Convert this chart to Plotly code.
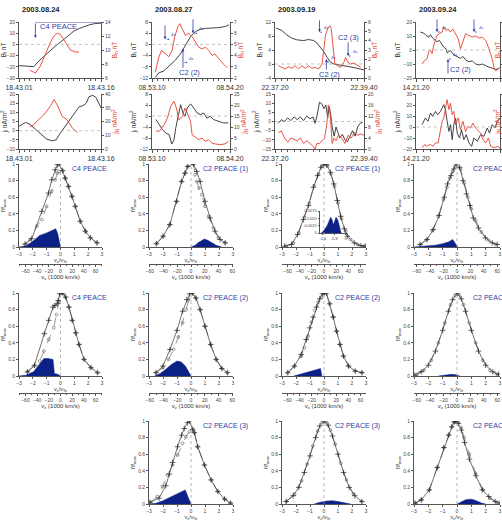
import plotly.graph_objects as go

W, H = 502, 521
FONT = "Liberation Sans, Arial, sans-serif"
BLUE_TXT = "#2c3ca6"
BLUE_FILL = "#0c2186"
RED = "#e8412c"
BLACK = "#2e2e2e"
AX = "#555555"

# ------------------------------------------------------------------ DATA
dates = ["2003.08.24", "2003.08.27", "2003.09.19", "2003.09.24"]
t_span = [15, 70, 140, 120]
t_labels = [("18.43.01", "18.43.16"), ("08.53.10", "08.54.20"),
            ("22.37.20", "22.39.40"), ("14.21.20", "14.23.20")]

# column 1 : 2003.08.24
c1_tB = [0, 1, 2, 2.7, 3.6, 4.5, 5.5, 6.4, 7.3, 8.2, 9.1, 10, 11, 11.9, 12.9, 13.8, 15]
c1_Bl = [-19, -19.3, -19.6, -19.8, -15, -10.6, -6.5, -2.6, 1, 4.8, 8.5, 11.7, 14.2, 16, 17.5, 18.5, 19]
c1_tBn = [2, 3, 3.9, 4.5, 5.1, 5.8, 6.4, 7, 7.6, 8.5, 9.4, 10.4, 11]
c1_Bn = [7.1, 6.7, 7.7, 8.8, 10, 11.2, 12, 12.4, 12.2, 11, 10, 9.7, 9.7]
c1_tj = [0, 0.7, 1.2, 2, 3, 4, 5, 6, 6.8, 7.4, 8, 8.8, 10, 11, 11.7, 12.3, 12.8, 13.5, 14.1, 14.6, 15]
c1_j = [2.4, 3.5, 4.5, 3.5, 1, -2, -4.5, -5.5, -5, -2, 0.5, 4, 9.5, 13, 13.6, 15, 18.5, 19.3, 18, 15, 12.4]
c1_tjN = [2, 2.6, 3.5, 4.5, 5.7, 6.4, 7, 7.9, 8.8, 9.8, 10.7]
c1_jN = [16, 17.5, 21, 24.7, 30.8, 36, 32, 23.8, 21.3, 15, 12]

# column 2 : 2003.08.27
c2_tB = [3, 6, 10.5, 15, 21, 25.5, 30, 34.5, 39, 43.5, 48, 54, 60, 66, 69]
c2_Bl = [-11.8, -10.2, -9.5, -7.7, -5.6, -3.4, -0.3, 2.7, 4.6, 5.4, 5.7, 5.8, 6, 6.4, 7]
c2_tBn = [3, 6, 8.4, 12, 15, 18, 20.4, 23.4, 25, 27, 30, 33, 36, 39, 42, 45, 48, 51, 54, 56.4, 60, 64.5, 67.5]
c2_Bn = [2.55, 3.8, 4.45, 4.2, 3.9, 4.45, 5.7, 6.6, 6.85, 6.45, 5.8, 6, 5.7, 5.2, 4.75, 4.6, 4.75, 4.45, 4, 4.15, 3.7, 3.2, 2.9]
c2_tj = [3.5, 6.5, 9.5, 12.4, 15.4, 17.7, 19.8, 21.3, 23.6, 25.7, 27.8, 29.5, 31.6, 34.6, 37.5, 40.5, 43.4, 46.4, 49.3, 52.3, 55.2, 59.7, 64.1, 68.5]
c2_j = [-1.3, -3.2, -5, -6.2, -6.8, -10.2, -8.6, -4.4, 0.5, 4.1, 1.1, -0.1, 2.9, 4.4, 2.9, 1.1, 0.5, 1.1, -0.8, -0.1, -1.3, -1.9, -2.5, -2.5]
c2_tjN = [3.5, 6.5, 10.9, 13.9, 16.8, 19.8, 21.9, 24.2, 27.2, 29.5, 31.6, 34.6, 36, 39, 42, 44.9, 47.8, 50.8, 53.8, 56.7, 61.1, 65.5, 68.5]
c2_jN = [8.3, 8, 11, 14.1, 19.4, 21.7, 18.6, 13.3, 14.8, 18.6, 16.4, 12.6, 6.5, 5.3, 4.2, 5, 3.5, 4.2, 2.7, 2.3, 2, 2.3, 3.5]

# column 3 : 2003.09.19
c3_tB = [1.6, 10.6, 18.5, 26.5, 34.4, 45, 52.9, 60.8, 66, 71.4, 76.7, 82, 87.3, 92.6, 103, 113.8, 124, 135, 140]
c3_Bl = [10.3, 9.6, 8.3, 7.4, 6.9, 6.7, 7, 6.7, 6, 4.8, 3.5, 1.9, 0.5, 0, -0.3, -0.5, -1, -1.5, -1.7]
c3_tBn = [5.3, 10.6, 15.9, 21.2, 26.5, 31.7, 37, 42.3, 47.6, 53, 58, 63.5, 68.8, 74, 76.7, 79.4, 83, 86.2, 88.4, 91.5, 94.2, 98, 103, 108.5, 111, 114.8, 119, 124, 129.6, 135]
c3_Bn = [1.32, 1.14, 0.96, 1.2, 1.04, 1.3, 0.97, 1.3, 1.04, 1.3, 1.04, 1.14, 0.97, 1.5, 3.1, 4.6, 5.3, 5.6, 5.3, 3.1, 1.5, 1.33, 1.14, 1.7, 2.2, 1.7, 1.5, 1.6, 1.33, 1.14]
c3_tj = [5, 10, 15, 20, 25, 30, 35, 40, 45, 50, 55, 60, 63, 66, 70, 74, 77, 80, 83, 85, 88, 90, 93, 96, 99, 102, 106, 110, 114, 118, 122, 126, 130, 134, 138]
c3_j = [-1, 1, 0, 2, 0.5, 2.5, 1, 2.5, 0.5, 3, 1.5, 2.5, -1, 3, 10.5, 9.5, 7, 9, 2, 8, 3, -3, -8, -3, -6, -9, -7, -10, -11, -8, -5, -8, -3, -1, -0.5]
c3_tjN = [5, 10, 15, 20, 25, 30, 35, 40, 45, 50, 55, 60, 63, 66, 70, 74, 78, 82, 84, 86, 88, 90, 93, 96, 100, 105, 110, 115, 120, 125, 130, 135, 140]
c3_jN = [6, 6.5, 4, 2.5, 4, 3.5, 3, 4, 2, 3, 2, 1, 0, 2, 2, 3, 4, 10, 16, 15, 8, 2, 4, 3, 5, 4, 2, 5, 4, 6, 5, 5.5, 5]

# column 4 : 2003.09.24
c4_tB = [6.2, 11, 14.4, 18.2, 20.6, 23.9, 27.8, 30, 33.5, 36.4, 39.7, 43, 44.5, 47, 49.3, 54, 58.9, 63.6, 67, 70.8, 75.6, 80.4, 85, 90, 94.7, 99.5, 104.3, 109, 114, 118.7]
c4_Bl = [12.8, 12.1, 10.4, 9.2, 10.9, 8.5, 6.8, 6, 6.8, 4.4, 2, 0.8, -2, -1, -0.5, -3.5, -5.1, -6, -4.6, -7, -8.4, -7.7, -10, -10.7, -10, -11.3, -12.3, -13, -14, -13]
c4_tBn = [8.6, 12.4, 15.8, 18.2, 20.6, 23, 25.4, 27.8, 30.1, 33.5, 37.3, 39.7, 43, 46, 49.3, 52.6, 56.5, 60.3, 63.6, 67, 70.8, 75.6, 80.4, 85, 90, 94.7, 99.5, 104.3, 108, 111.5, 114, 117.7, 120]
c4_Bn = [-10, -7.5, -6.2, -1.3, 0, -2.5, 3.5, 7, 10.5, 11.6, 12.8, 16.4, 14, 15, 12.8, 15, 11.6, 8, 0.8, 5.6, 11.6, 10.4, 9.2, 10, 8.5, 9.2, 6.8, 0.8, -5, -12.3, -14.7, -13.5, -12.3]
c4_tj = [8.6, 13.4, 17.2, 20.6, 23.9, 27.8, 31, 35, 39.7, 42, 44.5, 47, 49.3, 51.7, 54, 56.5, 58.9, 62.2, 65, 68.4, 71.8, 75.6, 79.4, 82.8, 87.6, 92.3, 97, 101.8, 105, 109, 112.8, 116, 120]
c4_j = [2.1, 8.2, 5.2, 12.7, 9.7, 14.2, 11.2, 14.2, 20.3, 15.8, 5.2, -4, 2.1, -11.5, 2.1, 8.2, -5.5, -10, -2.5, -11.5, -7, -14.5, -17.6, -10, -13, -7, -8.5, -0.9, -5.5, 2.1, -0.9, 5.2, 8.2]
c4_tjN = [8.6, 12.4, 15.8, 20.6, 23.9, 27.8, 31.6, 35, 37.3, 39.7, 42, 44.5, 47, 49.3, 51.7, 54, 56.5, 60.3, 63.6, 67, 70.8, 74.6, 78, 81.3, 85, 89, 92.3, 95.6, 99.5, 103.3, 106.7, 111.5, 116, 120]
c4_jN = [-19, -16, -17.6, -15.5, -17.6, -14.5, -14.5, -4, 5.2, 8.2, 17.3, 24.8, 15.8, 21.8, 11.2, 14.2, 2.1, 8.2, -2.5, 5.2, -4, 0.6, -0.9, 3.6, -0.9, -4, -5.5, -11.5, -14.5, -10, -17.6, -19, -17.6, -19]

# distribution functions (v/vth, f/fmax): "+" curve, "o" curve, blue filled difference
c1r1_xp = [-2.56, -2.08, -1.35, -0.87, -0.63, -0.39, -0.22, -0.1, 0.15, 0.34, 0.58, 0.83, 1.07, 1.43, 1.8, 2.16, 2.64]
c1r1_yp = [0.036, 0.1, 0.43, 0.65, 0.81, 0.93, 0.99, 1.0, 0.92, 0.83, 0.73, 0.61, 0.49, 0.31, 0.19, 0.11, 0.05]
c1r1_xc = [-2.56, -2.2, -1.72, -1.35, -1.0, -0.63, -0.39, -0.22, -0.1, 0.15, 0.34, 0.58, 0.83, 1.07, 1.43, 1.8, 2.16, 2.64]
c1r1_yc = [0.03, 0.09, 0.25, 0.33, 0.49, 0.67, 0.81, 0.89, 0.91, 0.92, 0.83, 0.73, 0.61, 0.49, 0.31, 0.19, 0.11, 0.05]
c1r1_xf = [-3, -2.5, -2, -1.5, -1, -0.63, -0.34, -0.2, -0.1, 0]
c1r1_yf = [0, 0.012, 0.07, 0.14, 0.17, 0.2, 0.22, 0.16, 0.06, 0]

c1r2_xp = [-2.39, -1.88, -1.17, -0.85, -0.54, -0.41, -0.24, -0.17, -0.05, 0.17, 0.37, 0.61, 0.85, 1.1, 1.34, 1.7, 2.2, 2.68]
c1r2_yp = [0.05, 0.13, 0.51, 0.67, 0.83, 0.85, 0.87, 0.91, 0.99, 1.0, 0.95, 0.83, 0.67, 0.52, 0.38, 0.2, 0.1, 0.04]
c1r2_xc = [-2.39, -1.88, -1.5, -1.2, -0.85, -0.49, -0.29, -0.12, 0, 0.17, 0.37, 0.61, 0.85, 1.1, 1.34, 1.7, 2.2, 2.68]
c1r2_yc = [0.05, 0.12, 0.18, 0.3, 0.44, 0.58, 0.74, 0.89, 0.99, 1.0, 0.95, 0.83, 0.67, 0.52, 0.38, 0.2, 0.1, 0.04]
c1r2_xf = [-3, -2.5, -1.95, -1.6, -1.2, -0.9, -0.54, -0.44, -0.2, 0]
c1r2_yf = [0, 0.01, 0.05, 0.12, 0.21, 0.21, 0.2, 0.03, 0.02, 0]

c2r1_xp = [-2.47, -1.99, -1.51, -1.03, -0.67, -0.43, -0.24, 0.17, 0.41, 0.65, 1.0, 1.37, 1.72, 2.08, 2.44]
c2r1_yp = [0.04, 0.13, 0.27, 0.55, 0.79, 0.89, 0.97, 1.0, 0.91, 0.79, 0.55, 0.35, 0.19, 0.09, 0.05]
c2r1_xc = [-2.47, -1.99, -1.51, -1.03, -0.67, -0.43, -0.24, 0.17, 0.29, 0.41, 0.57, 0.77, 1.0, 1.25, 1.6, 1.96, 2.44]
c2r1_yc = [0.04, 0.13, 0.27, 0.55, 0.79, 0.89, 0.97, 1.0, 0.87, 0.79, 0.71, 0.63, 0.49, 0.37, 0.23, 0.11, 0.05]
c2r1_xf = [0, 0.3, 0.5, 0.8, 0.95, 1.2, 1.5, 1.8, 2.2]
c2r1_yf = [0, 0.02, 0.05, 0.085, 0.095, 0.08, 0.05, 0.02, 0]

c2r2_xp = [-2.5, -2.0, -1.5, -1.0, -0.6, -0.3, -0.1, 0.1, 0.35, 0.65, 1.0, 1.4, 1.8, 2.2, 2.6]
c2r2_yp = [0.04, 0.12, 0.32, 0.55, 0.78, 0.92, 0.99, 1.0, 0.94, 0.8, 0.6, 0.38, 0.2, 0.09, 0.04]
c2r2_xc = [-2.5, -2.0, -1.6, -1.25, -0.9, -0.6, -0.35, -0.15, 0.1, 0.35, 0.65, 1.0, 1.4, 1.8, 2.2, 2.6]
c2r2_yc = [0.04, 0.1, 0.2, 0.32, 0.47, 0.64, 0.8, 0.92, 1.0, 0.94, 0.8, 0.6, 0.38, 0.2, 0.09, 0.04]
c2r2_xf = [-2.6, -2.2, -1.8, -1.4, -1.0, -0.7, -0.4, -0.2, 0]
c2r2_yf = [0, 0.03, 0.08, 0.14, 0.18, 0.17, 0.12, 0.05, 0]

c2r3_xp = [-2.93, -2.28, -1.8, -1.55, -1.32, -0.96, -0.67, -0.48, -0.24, -0.12, 0.12, 0.24, 0.48, 0.96, 1.44, 1.92, 2.4, 2.83]
c2r3_yp = [0.02, 0.07, 0.22, 0.36, 0.5, 0.69, 0.83, 0.91, 0.98, 1.0, 0.9, 0.86, 0.69, 0.47, 0.29, 0.15, 0.06, 0.01]
c2r3_xc = [-2.93, -2.4, -2.04, -1.68, -1.32, -0.96, -0.6, -0.36, -0.12, 0.12, 0.24, 0.48, 0.96, 1.44, 1.92, 2.4, 2.83]
c2r3_yc = [0.02, 0.09, 0.21, 0.35, 0.47, 0.59, 0.73, 0.81, 0.87, 0.9, 0.86, 0.69, 0.47, 0.29, 0.15, 0.06, 0.01]
c2r3_xf = [-3, -2.5, -2, -1.5, -1, -0.6, -0.41, -0.2, 0]
c2r3_yf = [0, 0.01, 0.04, 0.08, 0.12, 0.155, 0.17, 0.08, 0]

c3r1_xp = [-2.81, -2.32, -1.89, -1.47, -1.11, -0.75, -0.46, -0.22, -0.02, 0.17, 0.46, 0.7, 0.95, 1.19, 1.45, 1.67, 2.16, 2.64, 2.95]
c3r1_yp = [0.01, 0.03, 0.15, 0.33, 0.5, 0.72, 0.86, 0.96, 1.0, 0.99, 0.9, 0.76, 0.56, 0.37, 0.22, 0.13, 0.05, 0.015, 0.01]
c3r1_xc = [-2.7, -2.2, -1.8, -1.4, -1.05, -0.7, -0.4, -0.15, 0.05, 0.25, 0.5, 0.75, 1.0, 1.25, 1.55, 1.9, 2.4, 2.85]
c3r1_yc = [0.01, 0.05, 0.17, 0.36, 0.53, 0.74, 0.88, 0.97, 1.0, 0.98, 0.88, 0.73, 0.53, 0.34, 0.19, 0.09, 0.03, 0.01]
c3r1_xf = []
c3r1_yf = []
inset_x = [-1.7, -1.5, -1.3, -1.15, -1.05, -0.95, -0.86, -0.77, -0.67, -0.55, -0.45, -0.34, -0.3]
inset_y = [0, 0.001, 0.0025, 0.004, 0.0054, 0.0045, 0.0028, 0.004, 0.0054, 0.0045, 0.002, 0.0005, 0]
inset_xticks = [-1.6, -0.8, 0]
inset_yticks = [0, 0.0025, 0.005, 0.0075]

c3r2_xp = [-2.59, -2.11, -1.63, -1.27, -1.02, -0.78, -0.54, -0.3, -0.11, 0, 0.17, 0.41, 0.66, 0.9, 1.14, 1.39, 1.75, 2.23, 2.71]
c3r2_yp = [0.04, 0.12, 0.26, 0.44, 0.58, 0.71, 0.83, 0.93, 0.99, 1.0, 1.0, 0.87, 0.71, 0.54, 0.38, 0.24, 0.12, 0.06, 0.04]
c3r2_xc = [-2.59, -2.11, -1.63, -1.39, -1.14, -0.9, -0.66, -0.42, -0.18, 0, 0.17, 0.41, 0.66, 0.9, 1.14, 1.39, 1.75, 2.23, 2.71]
c3r2_yc = [0.04, 0.12, 0.24, 0.34, 0.48, 0.65, 0.79, 0.89, 0.95, 1.0, 1.0, 0.87, 0.71, 0.54, 0.38, 0.24, 0.12, 0.06, 0.04]
c3r2_xf = [-2.15, -1.7, -1.2, -0.7, -0.25, -0.15]
c3r2_yf = [0, 0.02, 0.04, 0.065, 0.09, 0]

c3r3_xp = [-2.7, -2.2, -1.8, -1.4, -1.0, -0.6, -0.3, 0, 0.3, 0.6, 1.0, 1.4, 1.8, 2.2, 2.7]
c3r3_yp = [0.03, 0.1, 0.2, 0.38, 0.58, 0.8, 0.94, 1.0, 0.95, 0.82, 0.6, 0.38, 0.2, 0.1, 0.03]
c3r3_xc = [-2.7, -2.1, -1.6, -1.2, -0.8, -0.45, -0.15, 0.15, 0.45, 0.8, 1.2, 1.6, 2.1, 2.7]
c3r3_yc = [0.03, 0.12, 0.28, 0.48, 0.7, 0.88, 0.98, 0.99, 0.89, 0.72, 0.49, 0.29, 0.12, 0.03]
c3r3_xf = [-0.7, -0.3, 0.2, 0.6, 1.0, 1.5, 1.9]
c3r3_yf = [0, 0.02, 0.035, 0.04, 0.03, 0.01, 0]

c4r1_xp = [-2.57, -2.09, -1.66, -1.25, -0.89, -0.66, -0.42, -0.22, -0.06, 0.18, 0.42, 0.66, 0.9, 1.14, 1.5, 1.98, 2.46, 2.81]
c4r1_yp = [0.03, 0.09, 0.21, 0.38, 0.6, 0.76, 0.86, 0.94, 1.0, 0.96, 0.8, 0.64, 0.5, 0.35, 0.23, 0.11, 0.05, 0.03]
c4r1_xc = [-2.57, -2.1, -1.7, -1.3, -0.95, -0.7, -0.5, -0.3, -0.12, 0.25, 0.5, 0.75, 1.0, 1.3, 1.7, 2.2, 2.7]
c4r1_yc = [0.03, 0.09, 0.2, 0.37, 0.57, 0.72, 0.83, 0.91, 0.97, 0.94, 0.77, 0.6, 0.46, 0.32, 0.18, 0.08, 0.03]
c4r1_xf = [-3, -2.5, -2, -1.5, -1, -0.6, -0.3, -0.15, 0.05]
c4r1_yf = [0, 0.005, 0.012, 0.022, 0.04, 0.06, 0.09, 0.05, 0]

c4r2_xp = [-2.95, -2.5, -2.0, -1.5, -1.0, -0.6, -0.3, 0, 0.3, 0.6, 1.0, 1.5, 2.0, 2.5, 2.9]
c4r2_yp = [0.01, 0.05, 0.13, 0.3, 0.55, 0.78, 0.92, 1.0, 0.93, 0.78, 0.55, 0.3, 0.13, 0.05, 0.02]
c4r2_xc = [-2.8, -2.3, -1.8, -1.3, -0.85, -0.45, -0.15, 0.15, 0.45, 0.85, 1.3, 1.8, 2.3, 2.8]
c4r2_yc = [0.02, 0.07, 0.19, 0.4, 0.64, 0.86, 0.97, 0.98, 0.86, 0.64, 0.4, 0.19, 0.07, 0.02]
c4r2_xf = [-1.3, -0.8, -0.4, -0.1, 0.2]
c4r2_yf = [0, 0.01, 0.02, 0.015, 0]

c4r3_xp = [-2.93, -2.49, -1.93, -1.37, -0.92, -0.58, -0.36, -0.2, -0.09, 0.09, 0.31, 0.53, 0.87, 1.32, 1.77, 2.21, 2.66, 3.0]
c4r3_yp = [0.01, 0.05, 0.17, 0.44, 0.68, 0.83, 0.93, 0.99, 1.0, 0.97, 0.89, 0.74, 0.54, 0.34, 0.17, 0.09, 0.03, 0.01]
c4r3_xc = [-2.93, -2.49, -1.93, -1.37, -0.92, -0.58, -0.36, -0.2, -0.09, 0.09, 0.3, 0.5, 0.85, 1.3, 1.8, 2.3, 2.8]
c4r3_yc = [0.01, 0.05, 0.17, 0.44, 0.68, 0.83, 0.93, 0.99, 1.0, 0.99, 0.92, 0.8, 0.6, 0.37, 0.17, 0.07, 0.02]
c4r3_xf = [0, 0.3, 0.6, 0.9, 1.1, 1.4, 1.7, 2.0]
c4r3_yf = [0, 0.03, 0.05, 0.058, 0.055, 0.035, 0.012, 0]

dist_labels = [["C4 PEACE", "C4 PEACE"],
               ["C2 PEACE (1)", "C2 PEACE (2)", "C2 PEACE (3)"],
               ["C2 PEACE (1)", "C2 PEACE (2)", "C2 PEACE (3)"],
               ["C2 PEACE (1)", "C2 PEACE (2)", "C2 PEACE (3)"]]
vx_range = [71, 61, 69, 64]

# spacecraft-crossing markers (time, arrow tail / head in B_l, level of 4 s arrow, label position)
marks = [
    [],
    [dict(label="C2 (1)", t=11.7, tail=7.3, head=1.8, h=1.8, lt=11.7, lv=8.7),
     dict(label="C2 (3)", t=36.8, tail=9.5, head=4.0, h=4.0, lt=47.5, lv=8.7),
     dict(label="C2 (2)", t=27.8, tail=-8.9, head=-1.5, h=-6.5, lt=34, lv=-10.0)],
    [dict(label="C2 (1)", t=70, tail=12.9, head=9.1, h=9.1, lt=54.4, lv=12.5),
     dict(label="C2 (2)", t=80.9, tail=-2.0, head=1.4, h=0.6, lt=85.5, lv=-2.9),
     dict(label="C2 (3)", t=115, tail=6.6, head=2.3, h=2.3, lt=115, lv=7.6)],
    [dict(label="C2 (1)", t=30, tail=22.9, head=12.9, h=12.9, lt=14.3, lv=21.2),
     dict(label="C2 (3)", t=82.9, tail=22.9, head=12.9, h=12.9, lt=98.6, lv=20.6),
     dict(label="C2 (2)", t=45.7, tail=-17.9, head=-6.4, h=-6.4, lt=62.9, lv=-13.6)],
]

# ------------------------------------------------------------------ LAYOUT GEOMETRY (pixels)
ts_x = [(19, 101), (152, 230), (275, 364), (416, 500)]
rowB = (22, 78)
rowJ = (94, 149)
d_x = [(19, 102), (149, 233), (282, 366), (414, 500)]
d_y = [(164, 247), (293, 376), (421, 504)]
sec_y = [264, 393]

fig = go.Figure()
lay = {}
anns = []
shapes = []
cnt = {"x": 0, "y": 0}


def new_axis(kind):
    cnt[kind] += 1
    n = cnt[kind]
    s = "" if n == 1 else str(n)
    return f"{kind}{s}"


def key(ref):
    return ref[0] + "axis" + ref[1:]


def px(v):
    return v / W


def py(v):
    return 1 - v / H


base = dict(showgrid=False, zeroline=False, showline=True, linecolor=AX, linewidth=0.8,
            ticks="outside", ticklen=2, tickwidth=0.6, tickcolor=AX,
            tickfont=dict(size=5, color="#444", family=FONT), automargin=False, fixedrange=True)


def line_trace(x, y, xr, yr, color, width=0.9):
    fig.add_trace(go.Scatter(x=x, y=y, xaxis=xr, yaxis=yr, mode="lines",
                             line=dict(color=color, width=width), hoverinfo="skip"))


def ts_panel(xpx, ypx, T, tlab, mdt, lrange, ldt, rrange, rdt, ltitle, rtitle,
             tl, vl, tr, vr):
    xr = new_axis("x")
    yl = new_axis("y")
    yr = new_axis("y")
    lay[key(xr)] = dict(base, domain=[px(xpx[0]), px(xpx[1])], range=[0, T], anchor=yl,
                        tickmode="array", tickvals=[0, T], ticktext=list(tlab), ticklen=3,
                        tickfont=dict(size=7, color="#333", family=FONT),
                        minor=dict(ticks="outside", ticklen=1.8, tickmode="linear", tick0=0,
                                   dtick=mdt, tickcolor=AX, tickwidth=0.5))
    lay[key(yl)] = dict(base, domain=[py(ypx[1]), py(ypx[0])], range=lrange, dtick=ldt,
                        anchor=xr, title=dict(text=ltitle, standoff=2,
                                              font=dict(size=6.5, color="#333", family=FONT)))
    lay[key(yr)] = dict(base, overlaying=yl, side="right", anchor=xr, range=rrange, dtick=rdt,
                        title=dict(text=rtitle, standoff=2,
                                   font=dict(size=6.5, color=RED, family=FONT)))
    shapes.append(dict(type="line", xref=f"{xr} domain", x0=0, x1=1, yref=yl, y0=0, y1=0,
                       line=dict(color="#aaaaaa", width=0.7, dash="dot")))
    line_trace(tl, vl, xr, yl, BLACK)
    line_trace(tr, vr, xr, yr, RED)
    return xr, yl


def dist_panel(xpx, ypx, xp, yp, xc, yc, xf, yf, label, lab_x, vxr=None, secpos=None):
    xa = new_axis("x")
    ya = new_axis("y")
    lay[key(xa)] = dict(base, domain=[px(xpx[0]), px(xpx[1])], range=[-3, 3], dtick=1, anchor=ya,
                        title=dict(text="v<sub>z</sub>/v<sub>Te</sub>", standoff=0,
                                   font=dict(size=5.5, color="#333", family=FONT)))
    lay[key(ya)] = dict(base, domain=[py(ypx[1]), py(ypx[0])], range=[0, 1], dtick=0.2, anchor=xa,
                        title=dict(text="f/f<sub>max</sub>", standoff=2,
                                   font=dict(size=6, color="#333", family=FONT)))
    if xf:
        fig.add_trace(go.Scatter(x=xf, y=yf, xaxis=xa, yaxis=ya, mode="lines", fill="tozeroy",
                                 fillcolor=BLUE_FILL, line=dict(color=BLUE_FILL, width=0.5),
                                 hoverinfo="skip"))
    fig.add_trace(go.Scatter(x=xc, y=yc, xaxis=xa, yaxis=ya, mode="lines+markers",
                             line=dict(color="#555", width=0.6, dash="dash"),
                             marker=dict(symbol="circle-open", size=2.8,
                                         line=dict(color="#333", width=0.6)), hoverinfo="skip"))
    fig.add_trace(go.Scatter(x=xp, y=yp, xaxis=xa, yaxis=ya, mode="lines+markers",
                             line=dict(color="#333", width=0.7),
                             marker=dict(symbol="cross-thin", size=4,
                                         line=dict(color="#222", width=0.7)), hoverinfo="skip"))
    shapes.append(dict(type="line", xref=xa, x0=0, x1=0, yref=f"{ya} domain", y0=0, y1=1,
                       line=dict(color="#999999", width=0.7, dash="dot")))
    anns.append(dict(xref=f"{xa} domain", yref=f"{ya} domain", x=lab_x, y=0.94,
                     xanchor="left", yanchor="middle", text=label, showarrow=False,
                     font=dict(size=7, color=BLUE_TXT, family=FONT)))
    if vxr is not None:
        xs = new_axis("x")
        lay[key(xs)] = dict(base, domain=[px(xpx[0]), px(xpx[1])], range=[-vxr, vxr], dtick=20,
                            anchor="free", position=py(secpos), ticklen=2,
                            minor=dict(ticks="outside", ticklen=1.5, dtick=10, tickcolor=AX,
                                       tickwidth=0.5),
                            title=dict(text="v<sub>z</sub> (1000 km/s)", standoff=0,
                                       font=dict(size=6, color="#333", family=FONT)))
        fig.add_trace(go.Scatter(x=[0], y=[0], xaxis=xs, yaxis=ya, mode="markers",
                                 marker=dict(opacity=0), hoverinfo="skip"))
    return xa, ya


def add_marks(xr, yl, mk):
    for m in mk:
        anns.append(dict(x=m["t"], y=m["head"], ax=m["t"], ay=m["tail"], xref=xr, yref=yl,
                         axref=xr, ayref=yl, text="", showarrow=True, arrowhead=2,
                         arrowsize=0.7, arrowwidth=0.8, arrowcolor=BLUE_TXT))
        anns.append(dict(x=m["t"] + 4, y=m["h"], ax=m["t"], ay=m["h"], xref=xr, yref=yl,
                         axref=xr, ayref=yl, text="", showarrow=True, arrowhead=2,
                         arrowsize=0.5, arrowwidth=0.6, arrowcolor=BLUE_TXT))
        anns.append(dict(x=m["t"] + 4, y=m["h"], xref=xr, yref=yl, text="4s", showarrow=False,
                         xanchor="left", yanchor="bottom",
                         font=dict(size=4, color=BLUE_TXT, family=FONT)))
        anns.append(dict(x=m["lt"], y=m["lv"], xref=xr, yref=yl, text=m["label"],
                         showarrow=False, font=dict(size=7.5, color=BLUE_TXT, family=FONT)))


B_title = "B<sub>l</sub> nT"
Bn_title = "B<sub>n</sub> nT"
j_title = "j<sub>l</sub> nA/m<sup>2</sup>"
jN_title = "j<sub>N</sub> nA/m<sup>2</sup>"

ts_data = [
    (c1_tB, c1_Bl, c1_tBn, c1_Bn, c1_tj, c1_j, c1_tjN, c1_jN),
    (c2_tB, c2_Bl, c2_tBn, c2_Bn, c2_tj, c2_j, c2_tjN, c2_jN),
    (c3_tB, c3_Bl, c3_tBn, c3_Bn, c3_tj, c3_j, c3_tjN, c3_jN),
    (c4_tB, c4_Bl, c4_tBn, c4_Bn, c4_tj, c4_j, c4_tjN, c4_jN),
]
B_ranges = [([-30, 20], 10, [6, 14], 2), ([-12, 8], 4, [2, 7], 1),
            ([-4, 12], 4, [0, 6], 1), ([-20, 20], 10, [-20, 20], 10)]
j_ranges = [([-10, 20], 5, [0, 40], 10), ([-12, 8], 4, [0, 25], 5),
            ([-15, 15], 5, [0, 20], 4), ([-20, 30], 10, [-20, 30], 10)]
minor_dt = [1, 5, 10, 10]

for c in range(4):
    tB, Bl, tBn, Bn, tj, jj, tjN, jN = ts_data[c]
    br = B_ranges[c]
    jr = j_ranges[c]
    xr, yl = ts_panel(ts_x[c], rowB, t_span[c], t_labels[c], minor_dt[c], br[0], br[1], br[2], br[3],
                      B_title, Bn_title, tB, Bl, tBn, Bn)
    if c == 0:
        # C4 PEACE interval bracket
        shapes.append(dict(type="line", xref=xr, yref=yl, x0=3, x1=15, y0=20, y1=20,
                           line=dict(color=BLUE_TXT, width=0.9)))
        anns.append(dict(x=3, y=5.7, ax=3, ay=20, xref=xr, yref=yl, axref=xr, ayref=yl, text="",
                         showarrow=True, arrowhead=2, arrowsize=0.7, arrowwidth=0.8,
                         arrowcolor=BLUE_TXT))
        anns.append(dict(x=3.4, y=15.8, xref=xr, yref=yl, text="C4 PEACE", showarrow=False,
                         xanchor="left", font=dict(size=7.5, color=BLUE_TXT, family=FONT)))
        anns.append(dict(x=14.5, y=20.3, xref=xr, yref=yl, text="43.04-43.19", showarrow=False,
                         xanchor="right", yanchor="bottom",
                         font=dict(size=4.5, color=BLUE_TXT, family=FONT)))
    add_marks(xr, yl, marks[c])
    ts_panel(ts_x[c], rowJ, t_span[c], t_labels[c], minor_dt[c], jr[0], jr[1], jr[2], jr[3],
             j_title, jN_title, tj, jj, tjN, jN)
    anns.append(dict(xref="paper", yref="paper", x=px(ts_x[c][0] + 1), y=py(10), xanchor="left",
                     yanchor="middle", text=f"<b>{dates[c]}</b>", showarrow=False,
                     font=dict(size=7.5, color="#222", family=FONT)))

dists = [
    [(c1r1_xp, c1r1_yp, c1r1_xc, c1r1_yc, c1r1_xf, c1r1_yf),
     (c1r2_xp, c1r2_yp, c1r2_xc, c1r2_yc, c1r2_xf, c1r2_yf)],
    [(c2r1_xp, c2r1_yp, c2r1_xc, c2r1_yc, c2r1_xf, c2r1_yf),
     (c2r2_xp, c2r2_yp, c2r2_xc, c2r2_yc, c2r2_xf, c2r2_yf),
     (c2r3_xp, c2r3_yp, c2r3_xc, c2r3_yc, c2r3_xf, c2r3_yf)],
    [(c3r1_xp, c3r1_yp, c3r1_xc, c3r1_yc, c3r1_xf, c3r1_yf),
     (c3r2_xp, c3r2_yp, c3r2_xc, c3r2_yc, c3r2_xf, c3r2_yf),
     (c3r3_xp, c3r3_yp, c3r3_xc, c3r3_yc, c3r3_xf, c3r3_yf)],
    [(c4r1_xp, c4r1_yp, c4r1_xc, c4r1_yc, c4r1_xf, c4r1_yf),
     (c4r2_xp, c4r2_yp, c4r2_xc, c4r2_yc, c4r2_xf, c4r2_yf),
     (c4r3_xp, c4r3_yp, c4r3_xc, c4r3_yc, c4r3_xf, c4r3_yf)],
]
lab_x = [0.62, 0.62, 0.61, 0.66]

for c in range(4):
    for r, d in enumerate(dists[c]):
        sec = vx_range[c] if r < 2 else None
        sp = sec_y[r] if r < 2 else None
        dist_panel(d_x[c], d_y[r], *d, dist_labels[c][r], lab_x[c], sec, sp)

# inset in column 3, first distribution
ix = new_axis("x")
iy = new_axis("y")
lay[key(ix)] = dict(base, domain=[px(320), px(347)], range=[-1.8, 0.1], anchor=iy,
                    tickmode="array", tickvals=inset_xticks,
                    ticktext=[str(v) for v in inset_xticks], ticklen=1.5,
                    tickfont=dict(size=4, color="#444", family=FONT))
lay[key(iy)] = dict(base, domain=[py(233), py(211)], range=[0, 0.0075], anchor=ix,
                    tickmode="array", tickvals=inset_yticks,
                    ticktext=["0", "0.0025", "0.005", "0.0075"], ticklen=1.5,
                    tickfont=dict(size=4, color="#444", family=FONT))
fig.add_trace(go.Scatter(x=inset_x, y=inset_y, xaxis=ix, yaxis=iy, mode="lines", fill="tozeroy",
                         fillcolor=BLUE_FILL, line=dict(color=BLUE_FILL, width=0.5),
                         hoverinfo="skip"))

fig.update_layout(width=W, height=H, margin=dict(l=0, r=0, t=0, b=0),
                  template="none", paper_bgcolor="white", plot_bgcolor="rgba(0,0,0,0)",
                  showlegend=False, font=dict(family=FONT),
                  annotations=anns, shapes=shapes, **lay)
fig.write_html("out.html")
